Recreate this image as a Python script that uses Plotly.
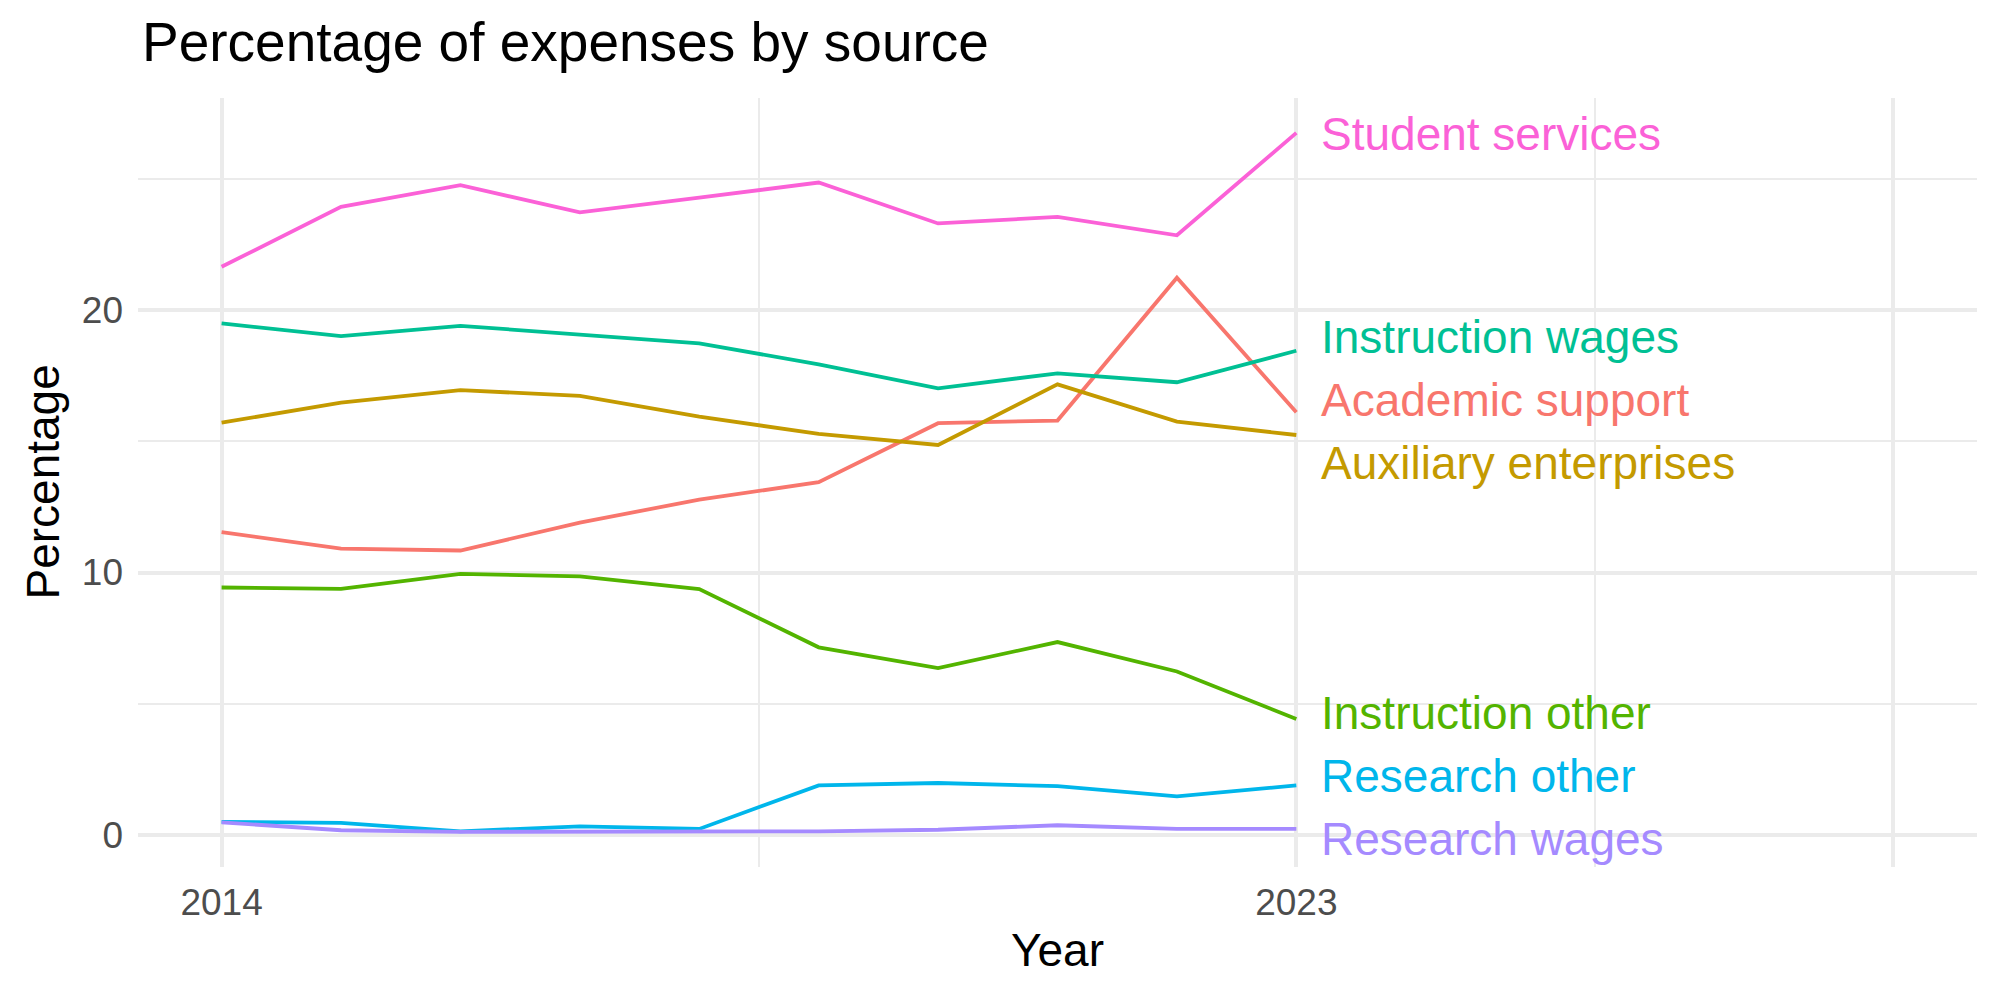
import plotly.graph_objects as go

# ---------------- data ----------------
years = [2014, 2015, 2016, 2017, 2018, 2019, 2020, 2021, 2022, 2023]

academic_support = [11.54, 10.91, 10.84, 11.90, 12.78, 13.44, 15.69, 15.79, 21.23, 16.11]
auxiliary_enterprises = [15.71, 16.47, 16.95, 16.73, 15.94, 15.28, 14.86, 17.17, 15.75, 15.24]
instruction_other = [9.43, 9.38, 9.95, 9.85, 9.37, 7.15, 6.36, 7.35, 6.23, 4.42]
instruction_wages = [19.49, 19.01, 19.40, 19.07, 18.73, 17.93, 17.02, 17.59, 17.25, 18.45]
research_other = [0.50, 0.46, 0.14, 0.33, 0.23, 1.89, 1.98, 1.86, 1.47, 1.89]
research_wages = [0.48, 0.18, 0.12, 0.12, 0.12, 0.14, 0.20, 0.37, 0.23, 0.23]
student_services = [21.65, 23.93, 24.76, 23.72, 24.28, 24.86, 23.30, 23.55, 22.85, 26.75]

series_names = ["Academic support", "Auxiliary enterprises", "Instruction other",
                "Instruction wages", "Research other", "Research wages", "Student services"]
series_values = [academic_support, auxiliary_enterprises, instruction_other,
                 instruction_wages, research_other, research_wages, student_services]

x_tick_vals = [2014, 2023, 2028]
x_tick_text = ["2014", "2023", ""]
x_minor_vals = [2018.5, 2025.5]
y_tick_vals = [0, 10, 20]
y_minor_vals = [5, 15, 25]

# ---------------- style ----------------
colors = ["#F8766D", "#C49A00", "#53B400", "#00C094", "#00B6EB", "#A58AFF", "#FB61D7"]
FONT = "Liberation Sans"
W, H = 2000, 1000
L, R, T, B = 138, 23, 98, 133
plot_w = W - L - R
plot_h = H - T - B
Y_RANGE = [-1.22, 28.08]


def px(p):
    return (p - L) / plot_w


def py(p):
    return (H - B - p) / plot_h


# simple label repel (cluster-centred, fixed spacing, kept inside panel)
def repel(vals, gap, floor):
    order = sorted(range(len(vals)), key=lambda i: vals[i])
    clusters = [[i] for i in order]

    def pos(cl):
        m = sum(vals[i] for i in cl) / len(cl)
        start = m - gap * (len(cl) - 1) / 2
        return [start + gap * k for k in range(len(cl))]

    changed = True
    while changed:
        changed = False
        for k in range(len(clusters) - 1):
            a, b = clusters[k], clusters[k + 1]
            if pos(b)[0] - pos(a)[-1] < gap - 1e-9:
                clusters[k] = a + b
                del clusters[k + 1]
                changed = True
                break
    out = [0] * len(vals)
    for cl in clusters:
        for i, p in zip(cl, pos(cl)):
            out[i] = p
    prev = None
    for i in order:
        lo = floor if prev is None else max(floor, prev + gap)
        out[i] = max(out[i], lo)
        prev = out[i]
    return out


fig = go.Figure()
for name, vals, col in zip(series_names, series_values, colors):
    fig.add_trace(go.Scatter(x=years, y=vals, mode="lines", name=name,
                             line=dict(color=col, width=3.8), showlegend=False))

end_vals = [v[-1] for v in series_values]
label_y = repel(end_vals, 2.4, Y_RANGE[0] + 1.12)
annotations = []
for name, ly, col in zip(series_names, label_y, colors):
    annotations.append(dict(x=years[-1], y=ly, xref="x", yref="y", text=name,
                            showarrow=False, xanchor="left", yanchor="middle",
                            xshift=23, yshift=-1,
                            font=dict(family=FONT, size=46, color=col)))

# title and axis titles
annotations.append(dict(x=px(140), y=py(42), xref="paper", yref="paper",
                        text="Percentage of expenses by source", showarrow=False,
                        xanchor="left", yanchor="middle",
                        font=dict(family=FONT, size=55, color="black")))
annotations.append(dict(x=0.5, y=py(950), xref="paper", yref="paper", text="Year",
                        showarrow=False, xanchor="center", yanchor="middle",
                        font=dict(family=FONT, size=46, color="black")))
annotations.append(dict(x=px(42), y=0.5, xref="paper", yref="paper", text="Percentage",
                        showarrow=False, xanchor="center", yanchor="middle", textangle=-90,
                        font=dict(family=FONT, size=46, color="black")))

fig.update_layout(
    width=W, height=H,
    margin=dict(l=L, r=R, t=T, b=B, pad=0),
    paper_bgcolor="white", plot_bgcolor="white",
    annotations=annotations,
    xaxis=dict(range=[2013.3, 2028.7], tickmode="array", tickvals=x_tick_vals,
               ticktext=x_tick_text, showgrid=True, gridcolor="#EBEBEB", gridwidth=4,
               zeroline=False, showline=False, ticks="",
               tickfont=dict(family=FONT, size=37, color="#4D4D4D"),
               ticklabelstandoff=10,
               minor=dict(tickmode="array", tickvals=x_minor_vals, showgrid=True,
                          gridcolor="#EBEBEB", gridwidth=2)),
    yaxis=dict(range=Y_RANGE, tickmode="array", tickvals=y_tick_vals,
               showgrid=True, gridcolor="#EBEBEB", gridwidth=4,
               zeroline=False, showline=False, ticks="",
               tickfont=dict(family=FONT, size=37, color="#4D4D4D"),
               ticklabelstandoff=14,
               minor=dict(tickmode="array", tickvals=y_minor_vals, showgrid=True,
                          gridcolor="#EBEBEB", gridwidth=2)),
)

fig.write_html("out.html")
